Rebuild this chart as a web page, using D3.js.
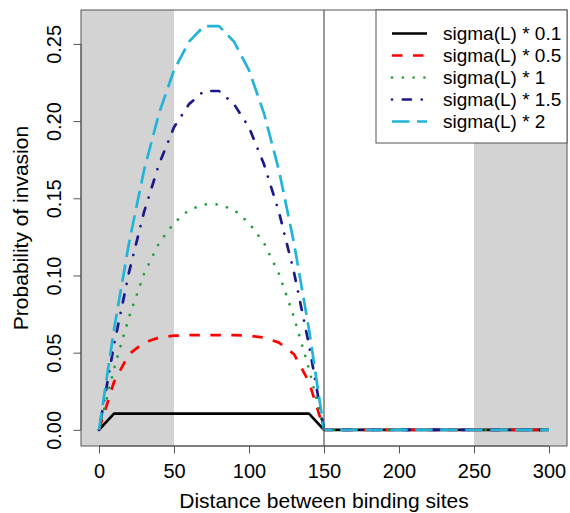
<!DOCTYPE html>
<html>
<head>
<meta charset="utf-8">
<script src="https://cdn.jsdelivr.net/npm/d3@7"></script>
<style>
  body { margin: 0; background: #fff; }
  text { font-family: "Liberation Sans", Arial, sans-serif; }
</style>
</head>
<body>
<div class="chart"></div>
<script>
// distance between binding sites
const distance = [0, 10, 20, 30, 40, 50, 60, 70, 80, 90, 100, 110, 120, 130, 140, 150,
  160, 170, 180, 190, 200, 210, 220, 230, 240, 250, 260, 270, 280, 290, 300]

// probability of invasion, one array per sigma multiplier
const sigma01 = [0, 0.0105, 0.0105, 0.0105, 0.0105, 0.0105, 0.0105, 0.0105, 0.0105, 0.0105, 0.0105, 0.0105, 0.0105, 0.0105, 0.0105, 0,
  0, 0, 0, 0, 0, 0, 0, 0, 0, 0, 0, 0, 0, 0, 0]
const sigma05 = [0, 0.031, 0.049, 0.0565, 0.0598, 0.061, 0.0613, 0.0614, 0.0614, 0.0613, 0.061, 0.0598, 0.0565, 0.049, 0.031, 0,
  0, 0, 0, 0, 0, 0, 0, 0, 0, 0, 0, 0, 0, 0, 0]
const sigma1 = [0, 0.0395, 0.073, 0.101, 0.121, 0.134, 0.1425, 0.146, 0.146, 0.1425, 0.134, 0.121, 0.101, 0.073, 0.0395, 0,
  0, 0, 0, 0, 0, 0, 0, 0, 0, 0, 0, 0, 0, 0, 0]
const sigma15 = [0, 0.055, 0.102, 0.141, 0.172, 0.196, 0.211, 0.2195, 0.2195, 0.211, 0.196, 0.172, 0.141, 0.102, 0.055, 0,
  0, 0, 0, 0, 0, 0, 0, 0, 0, 0, 0, 0, 0, 0, 0]
const sigma2 = [0, 0.065, 0.121, 0.168, 0.205, 0.233, 0.2515, 0.2615, 0.2615, 0.2515, 0.233, 0.205, 0.168, 0.121, 0.065, 0,
  0, 0, 0, 0, 0, 0, 0, 0, 0, 0, 0, 0, 0, 0, 0]

const seriesNames = ["sigma(L) * 0.1", "sigma(L) * 0.5", "sigma(L) * 1", "sigma(L) * 1.5", "sigma(L) * 2"]
const xTicks = [0, 50, 100, 150, 200, 250, 300]
const yTicks = [0, 0.05, 0.10, 0.15, 0.20, 0.25]
const shadedRanges = [["min", 50], [250, "max"]]
const cutoff = 150

const seriesValues = [sigma01, sigma05, sigma1, sigma15, sigma2]
const styles = [
  {color: "#000000", dash: null, cap: "butt"},
  {color: "#ff0000", dash: "10.5,10.5", cap: "butt"},
  {color: "#1e9e3c", dash: "0.01,10.8", cap: "round"},
  {color: "#1c1a8a", dash: "0.01,10.8,8.1,10.8", cap: "round"},
  {color: "#22b4d8", dash: "17.5,7.5", cap: "butt"}
]

const W = 570, H = 513
const plot = {left: 81, right: 567, top: 10, bottom: 446}

// R style 4% padding on both axes
const xMin = d3.min(distance), xMax = d3.max(distance)
const xPad = (xMax - xMin) * 0.04
const allY = seriesValues.flat()
const yMin = d3.min(allY), yMax = d3.max(allY)
const yPad = (yMax - yMin) * 0.04

const xScale = d3.scaleLinear()
  .domain([xMin - xPad, xMax + xPad])
  .range([plot.left, plot.right])

const yScale = d3.scaleLinear()
  .domain([yMin - yPad, yMax + yPad])
  .range([plot.bottom, plot.top])

const edge = v => v === "min" ? xScale.domain()[0] : v === "max" ? xScale.domain()[1] : v

let svg = d3.select(".chart")
  .append("svg")
  .attr("width", W)
  .attr("height", H)

// grey bands
svg.selectAll("rect.band")
  .data(shadedRanges)
  .enter()
  .append("rect")
  .attr("class", "band")
  .attr("x", d => xScale(edge(d[0])))
  .attr("width", d => xScale(edge(d[1])) - xScale(edge(d[0])))
  .attr("y", plot.top)
  .attr("height", plot.bottom - plot.top)
  .attr("fill", "#d3d3d3")

// curves
const line = d3.line()
  .x((d, i) => xScale(distance[i]))
  .y(d => yScale(d))

svg.selectAll("path.curve")
  .data(seriesValues)
  .enter()
  .append("path")
  .attr("class", "curve")
  .attr("d", line)
  .attr("fill", "none")
  .attr("stroke", (d, i) => styles[i].color)
  .attr("stroke-width", 2.7)
  .attr("stroke-dasharray", (d, i) => styles[i].dash)
  .attr("stroke-linecap", (d, i) => styles[i].cap)
  .attr("stroke-linejoin", "round")

// vertical line at the cutoff
svg.append("line")
  .attr("x1", xScale(cutoff)).attr("x2", xScale(cutoff))
  .attr("y1", plot.top).attr("y2", plot.bottom)
  .attr("stroke", "#333")
  .attr("stroke-width", 1)

// box
svg.append("rect")
  .attr("x", plot.left).attr("y", plot.top)
  .attr("width", plot.right - plot.left)
  .attr("height", plot.bottom - plot.top)
  .attr("fill", "none")
  .attr("stroke", "#555")
  .attr("stroke-width", 1)

// axes
const xAxisCall = d3.axisBottom(xScale)
  .tickValues(xTicks)
  .tickSize(7.5)
  .tickPadding(10)
  .tickFormat(d3.format("d"))

const xAxis = svg.append("g")
  .attr("class", "x axis")
  .attr("transform", "translate(0," + plot.bottom + ")")
  .call(xAxisCall)
xAxis.select(".domain").remove()
xAxis.append("line")
  .attr("x1", xScale(xTicks[0])).attr("x2", xScale(xTicks[xTicks.length - 1]))
xAxis.selectAll("line").attr("stroke", "#555")
xAxis.selectAll("text")
  .attr("font-size", "20px")
  .attr("fill", "#000")
  .attr("font-family", "Liberation Sans, Arial, sans-serif")

const yAxisCall = d3.axisLeft(yScale)
  .tickValues(yTicks)
  .tickSize(7.5)
  .tickFormat(d3.format(".2f"))

const yAxis = svg.append("g")
  .attr("class", "y axis")
  .attr("transform", "translate(" + plot.left + ",0)")
  .call(yAxisCall)
yAxis.select(".domain").remove()
yAxis.append("line")
  .attr("y1", yScale(yTicks[0])).attr("y2", yScale(yTicks[yTicks.length - 1]))
yAxis.selectAll("line").attr("stroke", "#555")
yAxis.selectAll("text")
  .attr("transform", "rotate(-90)")
  .attr("x", 0)
  .attr("y", -20)
  .attr("dy", 0)
  .attr("text-anchor", "middle")
  .attr("font-size", "20px")
  .attr("fill", "#000")
  .attr("font-family", "Liberation Sans, Arial, sans-serif")

// axis titles
svg.append("text")
  .attr("x", (plot.left + plot.right) / 2)
  .attr("y", 507.5)
  .attr("text-anchor", "middle")
  .attr("font-size", "21px")
  .text("Distance between binding sites")

svg.append("text")
  .attr("transform", "translate(27.5," + (plot.top + plot.bottom) / 2 + ") rotate(-90)")
  .attr("text-anchor", "middle")
  .attr("font-size", "21px")
  .text("Probability of invasion")

// legend
const legend = svg.append("g").attr("class", "legend")
legend.append("rect")
  .attr("x", 376).attr("y", plot.top)
  .attr("width", plot.right - 376)
  .attr("height", 133)
  .attr("fill", "#fff")
  .attr("stroke", "#555")
  .attr("stroke-width", 1)

const rows = legend.selectAll("g.row")
  .data(seriesNames)
  .enter()
  .append("g")
  .attr("class", "row")
  .attr("transform", (d, i) => "translate(0," + (33.5 + i * 22) + ")")

rows.append("line")
  .attr("x1", 392).attr("x2", 427)
  .attr("stroke", (d, i) => styles[i].color)
  .attr("stroke-width", 2.7)
  .attr("stroke-dasharray", (d, i) => styles[i].dash)
  .attr("stroke-linecap", (d, i) => styles[i].cap)

rows.append("text")
  .attr("x", 443)
  .attr("dy", "0.35em")
  .attr("font-size", "19px")
  .text(d => d)
</script>
</body>
</html>
